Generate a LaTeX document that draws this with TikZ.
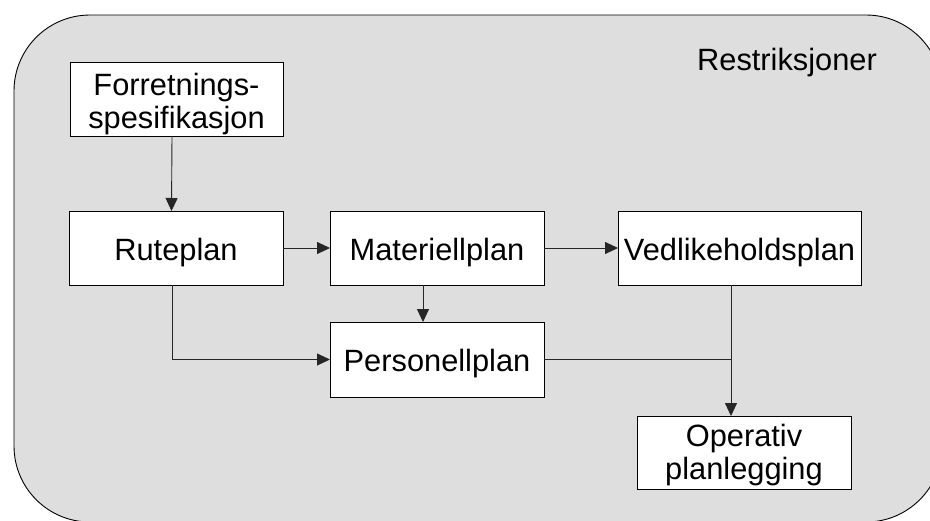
\documentclass[tikz,border=0pt]{standalone}
\usepackage{fontspec}
\setmainfont{Liberation Sans}
\usetikzlibrary{arrows.meta}
\begin{document}
\begin{tikzpicture}[x=1pt,y=-1pt,
  every node/.style={inner sep=0pt, outer sep=0pt},
  planbox/.style={draw=black, fill=white, line width=0.9pt},
  lbl/.style={font=\fontsize{30.8}{33}\selectfont, align=center, anchor=base},
  flow/.style={draw=black!85, line width=0.9pt, -{Triangle[length=13pt,width=12pt]}},
  plain/.style={draw=black!85, line width=0.9pt}]
\useasboundingbox (0,0) rectangle (930,520);
\clip (0,0) rectangle (930,520);

% shaded restrictions area
\draw[fill=black!13, line width=0.9pt, rounded corners=76pt] (14,15) rectangle (942,522);
\node[lbl] (restr) at (787,70) {Restriksjoner};

% planning boxes
\node[planbox, minimum width=213pt, minimum height=74pt] (F) at (176.5,99) {};
\node[planbox, minimum width=214pt, minimum height=74pt] (R) at (176,248) {};
\node[planbox, minimum width=214pt, minimum height=74pt] (M) at (437,248) {};
\node[planbox, minimum width=243pt, minimum height=74pt] (V) at (739.5,248) {};
\node[planbox, minimum width=214pt, minimum height=75pt] (P) at (437,359.5) {};
\node[planbox, minimum width=214pt, minimum height=73pt] (O) at (744,452.5) {};

% box labels (a two-line label sits on the baseline of its last line)
\node[lbl] (Ft) at (176.5,128) {Forretnings-\\spesifikasjon};
\node[lbl] (Rt) at (176,260) {Ruteplan};
\node[lbl] (Mt) at (437,260) {Materiellplan};
\node[lbl] (Vt) at (739.5,260) {Vedlikeholdsplan};
\node[lbl] (Pt) at (437,371) {Personellplan};
\node[lbl] (Ot) at (744,479) {Operativ\\planlegging};

% connectors
\draw[flow] ([xshift=-4.5pt]F.south) -- ([xshift=-4.5pt]R.north);
\draw[flow] (R.east) -- (M.west);
\draw[flow] (M.east) -- (V.west);
\draw[flow] ([xshift=-14pt]M.south) -- ([xshift=-14pt]P.north);
\draw[flow] ([xshift=-4pt]R.south) |- (P.west);
\coordinate (J) at ([xshift=-8.5pt]V.south |- P.east);
\draw[plain] (P.east) -- (J);
\draw[flow] ([xshift=-8.5pt]V.south) -- ([xshift=-8.5pt]V.south |- O.north);
\end{tikzpicture}
\end{document}
